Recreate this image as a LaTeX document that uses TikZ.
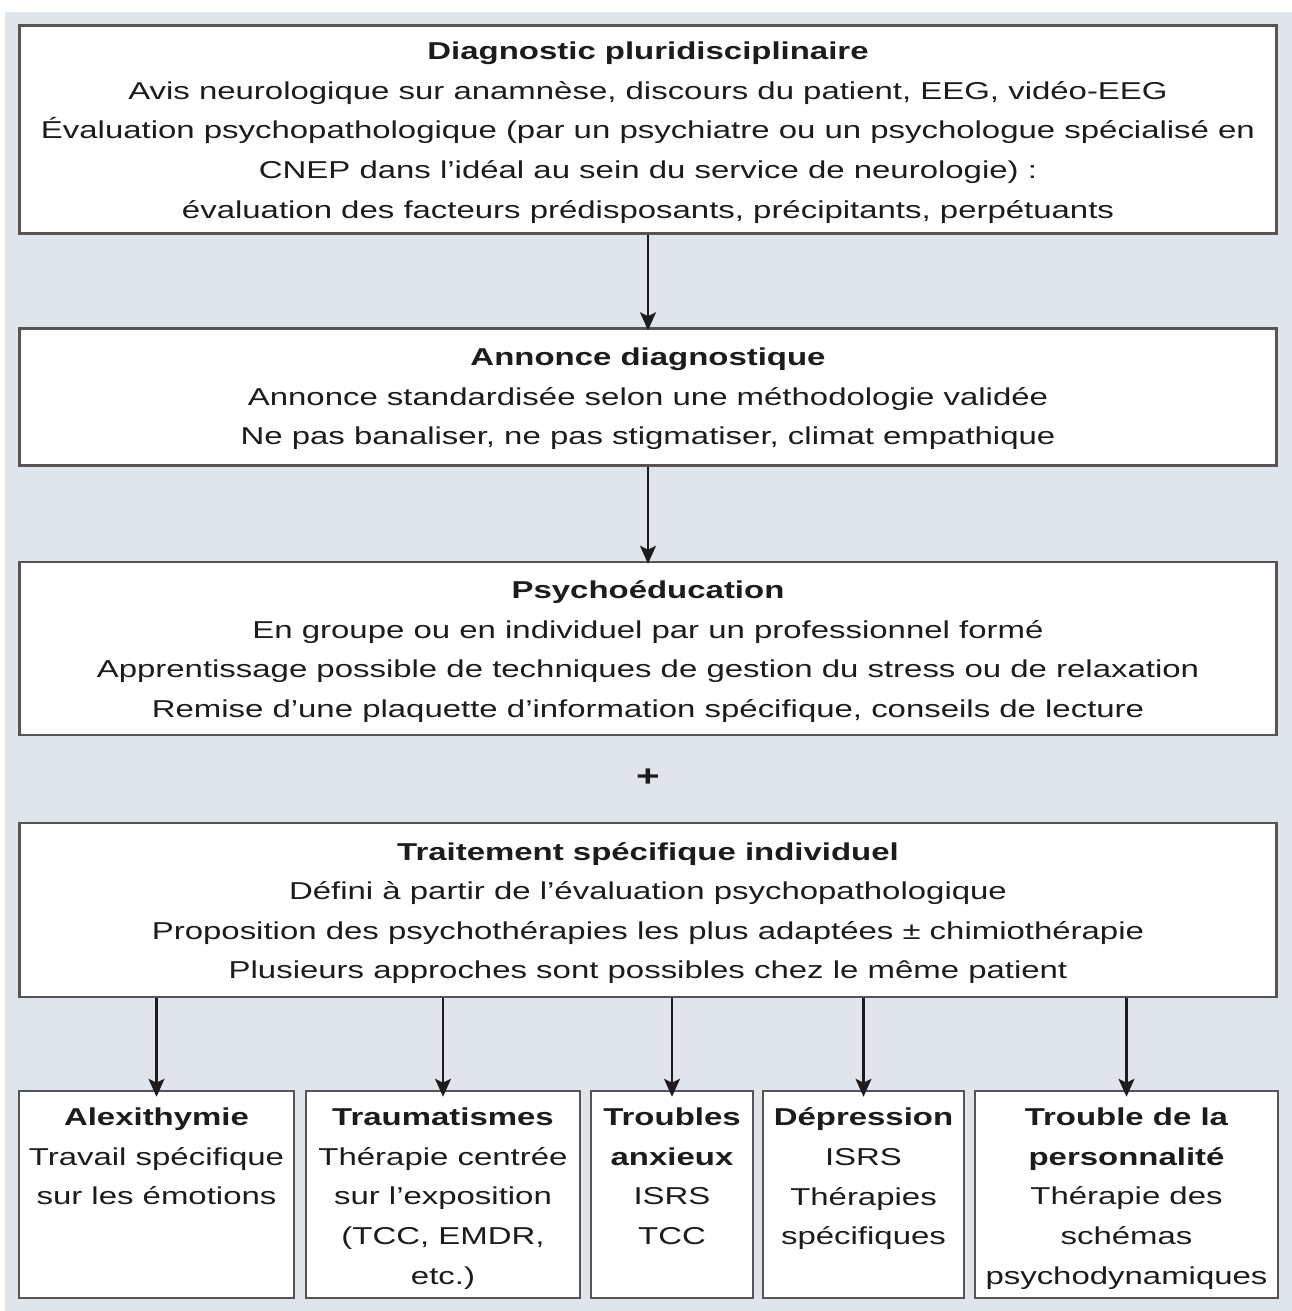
\documentclass[tikz,border=0pt]{standalone}
\usepackage{fontspec}
\setmainfont{Liberation Sans}[FakeStretch=1.35]
\usetikzlibrary{arrows.meta}
\definecolor{panel}{RGB}{224,228,235}
\definecolor{boxline}{RGB}{85,85,88}
\definecolor{ink}{RGB}{28,28,30}
\newcommand{\txt}{\fontsize{24.4pt}{39.6pt}\selectfont}
\tikzset{
  bigbox/.style={draw=boxline, line width=2.5pt, fill=white, minimum width=1257pt, inner sep=0pt},
  smallbox/.style={draw=boxline, line width=2.5pt, fill=white, inner sep=0pt},
  bigtext/.style={align=center, text=ink, inner sep=0pt, font=\txt},
  smalltext/.style={anchor=north, align=center, text=ink, inner sep=0pt, font=\txt},
  arr/.style={draw=ink, line width=2.2pt, -{Stealth[length=18pt,width=16pt,inset=4pt]}},
}
\begin{document}
\begin{tikzpicture}[x=1pt,y=-1pt]
\fill[white] (0,0) rectangle (1292,1311);
\fill[panel] (5,12) rectangle (1292,1311);
\useasboundingbox (0,0) rectangle (1292,1311);

\node[bigbox, minimum height=208pt] (diag) at (648,129.5) {};
\node[bigtext] (diagt) at ([yshift=-3pt]diag.center) {\textbf{Diagnostic pluridisciplinaire}\\
Avis neurologique sur anamnèse, discours du patient, EEG, vidéo-EEG\\
Évaluation psychopathologique (par un psychiatre ou un psychologue spécialisé en\\
CNEP dans l’idéal au sein du service de neurologie) :\\
évaluation des facteurs prédisposants, précipitants, perpétuants};

\node[bigbox, minimum height=137pt] (annonce) at (648,397) {};
\node[bigtext] (annoncet) at ([yshift=-2pt]annonce.center) {\textbf{Annonce diagnostique}\\
Annonce standardisée selon une méthodologie validée\\
Ne pas banaliser, ne pas stigmatiser, climat empathique};

\node[bigbox, minimum height=173pt] (psy) at (648,648.5) {};
\node[bigtext] (psyt) at ([yshift=-3pt]psy.center) {\textbf{Psychoéducation}\\
En groupe ou en individuel par un professionnel formé\\
Apprentissage possible de techniques de gestion du stress ou de relaxation\\
Remise d’une plaquette d’information spécifique, conseils de lecture};

\node[text=ink, inner sep=0pt] (plus) at (648,778) {\fontsize{30pt}{30pt}\selectfont\textbf{+}};

\node[bigbox, minimum height=174pt] (trait) at (648,910) {};
\node[bigtext] (traitt) at ([yshift=-3pt]trait.center) {\textbf{Traitement spécifique individuel}\\
Défini à partir de l’évaluation psychopathologique\\
Proposition des psychothérapies les plus adaptées ± chimiothérapie\\
Plusieurs approches sont possibles chez le même patient};

% bottom boxes
\node[smallbox, minimum width=275pt, minimum height=207pt] (b1) at (156.5,1194.5) {};
\node[smallbox, minimum width=274pt, minimum height=207pt] (b2) at (443,1194.5) {};
\node[smallbox, minimum width=162pt, minimum height=207pt] (b3) at (672,1194.5) {};
\node[smallbox, minimum width=201pt, minimum height=207pt] (b4) at (863.5,1194.5) {};
\node[smallbox, minimum width=303pt, minimum height=207pt] (b5) at (1126.5,1194.5) {};

\node[smalltext] (t1) at ([yshift=-18pt]b1.north) {\textbf{Alexithymie}\\Travail spécifique\\sur les émotions};
\node[smalltext] (t2) at ([yshift=-18pt]b2.north) {\textbf{Traumatismes}\\Thérapie centrée\\sur l’exposition\\(TCC, EMDR,\\etc.)};
\node[smalltext] (t3) at ([yshift=-18pt]b3.north) {\textbf{Troubles}\\\textbf{anxieux}\\ISRS\\TCC};
\node[smalltext] (t4) at ([yshift=-18pt]b4.north) {\textbf{Dépression}\\ISRS\\Thérapies\\spécifiques};
\node[smalltext] (t5) at ([yshift=-18pt]b5.north) {\textbf{Trouble de la}\\\textbf{personnalité}\\Thérapie des\\schémas\\psychodynamiques};

% arrows
\draw[arr] (diag.south) -- ([yshift=-3pt]annonce.north);
\draw[arr] (annonce.south) -- ([yshift=-3pt]psy.north);
\foreach \b in {b1,b2,b3,b4,b5}{
  \draw[arr] (trait.south -| \b.north) -- ([yshift=-7pt]\b.north);
}
\end{tikzpicture}
\end{document}
